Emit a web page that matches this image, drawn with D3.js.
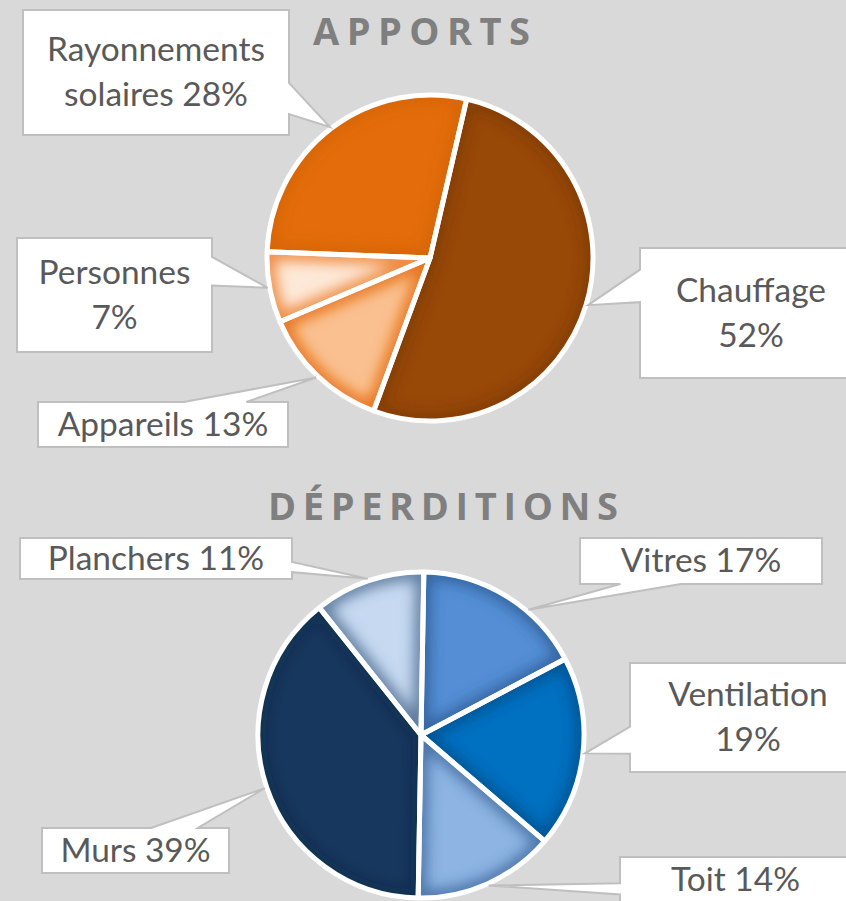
<!DOCTYPE html>
<html>
<head>
<meta charset="utf-8">
<script src="https://cdn.jsdelivr.net/npm/d3@7"></script>
<style>
  html, body { margin: 0; padding: 0; background: #d9d9d9; }
  svg { display: block; }
</style>
</head>
<body>
<div id="chart"></div>
<script>
'use strict';

// data
var apportsCats = ['Chauffage', 'Appareils', 'Personnes', 'Rayonnements solaires'];
var apportsVals = [52, 13, 7, 28];
var apportsColors = ['#984807', '#fac090', '#fde9d9', '#e46c0a'];
var apportsShade = ['#5a2a04', '#e46c0a', '#ec7a24', '#b45205'];
var apportsShadeOp = [0.35, 0.9, 0.85, 0.3];

var deperCats = ['Vitres', 'Ventilation', 'Toit', 'Murs', 'Planchers'];
var deperVals = [17, 19, 14, 39, 11];
var deperColors = ['#558ed5', '#0070c0', '#8db4e2', '#17375e', '#c6d9f1'];
var deperShade = ['#1f497d', '#003a66', '#2f5a90', '#0a1a30', '#46648a'];
var deperShadeOp = [0.6, 0.5, 0.7, 0.3, 0.8];

// callout boxes (layout only)
var apportsBoxes = [
  {x: 640, y: 248, w: 222, h: 130, first: 1},
  {x: 38,  y: 402, w: 250, h: 45,  first: 0},
  {x: 17,  y: 238, w: 195, h: 114, first: 1},
  {x: 23,  y: 10,  w: 266, h: 125, first: 1}
];
var deperBoxes = [
  {x: 580, y: 538, w: 242, h: 46,  first: 0, shift: 9},
  {x: 630, y: 663, w: 236, h: 109, first: 1},
  {x: 620, y: 857, w: 231, h: 45,  first: 0},
  {x: 42,  y: 828, w: 187, h: 45,  first: 0},
  {x: 20,  y: 538, w: 272, h: 41,  first: 0}
];

var W = 846, H = 901;
var svg = d3.select('#chart').append('svg')
    .attr('width', W)
    .attr('height', H);
svg.append('rect').attr('width', W).attr('height', H).attr('fill', '#d9d9d9');
var defs = svg.append('defs');

defs.append('filter').attr('id', 'soft')
    .attr('x', '-20%').attr('y', '-20%').attr('width', '140%').attr('height', '140%')
  .append('feGaussianBlur').attr('stdDeviation', 7);

var labelFont = 'Lato, "Open Sans", sans-serif';

// fit label font size to the reference width of "Rayonnements"
var probe = svg.append('text')
    .attr('font-family', labelFont)
    .attr('font-size', 30)
    .text('Rayonnements');
var labelSize = 30 * 218 / probe.node().getComputedTextLength();
probe.remove();

function calloutPath(b, tip) {
  var cx = b.x + b.w / 2, cy = b.y + b.h / 2;
  var dx = tip[0] - cx, dy = tip[1] - cy;
  var x0 = b.x, x1 = b.x + b.w, y0 = b.y, y1 = b.y + b.h;
  var p = d3.path();
  var vertical = Math.abs(dy) / b.h > Math.abs(dx) / b.w;
  var fa, fb;
  if (vertical) {
    fa = dx > 0 ? b.x + b.w * 7 / 12 : b.x + b.w * 2 / 12;
    fb = dx > 0 ? b.x + b.w * 10 / 12 : b.x + b.w * 5 / 12;
  } else {
    fa = dy > 0 ? b.y + b.h * 7 / 12 : b.y + b.h * 2 / 12;
    fb = dy > 0 ? b.y + b.h * 10 / 12 : b.y + b.h * 5 / 12;
  }
  p.moveTo(x0, y0);
  if (vertical && dy < 0) { p.lineTo(fa, y0); p.lineTo(tip[0], tip[1]); p.lineTo(fb, y0); }
  p.lineTo(x1, y0);
  if (!vertical && dx > 0) { p.lineTo(x1, fa); p.lineTo(tip[0], tip[1]); p.lineTo(x1, fb); }
  p.lineTo(x1, y1);
  if (vertical && dy > 0) { p.lineTo(fb, y1); p.lineTo(tip[0], tip[1]); p.lineTo(fa, y1); }
  p.lineTo(x0, y1);
  if (!vertical && dx < 0) { p.lineTo(x0, fb); p.lineTo(tip[0], tip[1]); p.lineTo(x0, fa); }
  p.closePath();
  return p.toString();
}

function drawPie(cfg) {
  var data = cfg.cats.map(function(c, i) { return {name: c, value: cfg.vals[i]}; });
  var start = cfg.start * Math.PI / 180;
  var pie = d3.pie().sort(null).value(function(d) { return d.value; })
      .startAngle(start).endAngle(start + 2 * Math.PI);
  var arcs = pie(data);
  var arc = d3.arc().innerRadius(0).outerRadius(cfg.r);

  var g = svg.append('g').attr('transform', 'translate(' + cfg.cx + ',' + cfg.cy + ')');

  arcs.forEach(function(a) {
    var cid = cfg.id + 'clip' + a.index;
    defs.append('clipPath').attr('id', cid).append('path').attr('d', arc(a));
    var s = g.append('g').attr('clip-path', 'url(#' + cid + ')');
    s.append('path')
        .attr('d', arc(a))
        .attr('fill', cfg.colors[a.index]);
    // soft inner shading along the slice edges
    s.append('path')
        .attr('d', arc(a))
        .attr('fill', 'none')
        .attr('stroke', cfg.shade[a.index])
        .attr('stroke-opacity', cfg.shadeOp[a.index])
        .attr('stroke-width', 16)
        .attr('filter', 'url(#soft)');
  });

  g.selectAll('path.edge').data(arcs).enter().append('path')
      .attr('class', 'edge')
      .attr('d', arc)
      .attr('fill', 'none')
      .attr('stroke', '#fff')
      .attr('stroke-width', 5)
      .attr('stroke-linejoin', 'round');

  // callouts
  arcs.forEach(function(a) {
    var b = cfg.boxes[a.index];
    var mid = (a.startAngle + a.endAngle) / 2 + (b.shift || 0) * Math.PI / 180;
    var tr = cfg.r + 2;
    var tip = [cfg.cx + tr * Math.sin(mid), cfg.cy - tr * Math.cos(mid)];

    svg.append('path')
        .attr('d', calloutPath(b, tip))
        .attr('fill', '#fff')
        .attr('stroke', '#bfbfbf')
        .attr('stroke-width', 2)
        .attr('stroke-linejoin', 'miter');

    var words = a.data.name.split(' ');
    var pct = a.data.value + '%';
    var lines;
    if (b.first === 0) lines = [a.data.name + ' ' + pct];
    else {
      var rest = words.slice(b.first);
      lines = [words.slice(0, b.first).join(' '), rest.concat([pct]).join(' ')];
    }
    var lh = 45;
    var top = b.y + b.h / 2 - lines.length * lh / 2;
    lines.forEach(function(l, k) {
      svg.append('text')
          .attr('x', b.x + b.w / 2)
          .attr('y', top + lh * k + lh / 2 + 11)
          .attr('text-anchor', 'middle')
          .attr('font-family', labelFont)
          .attr('font-size', labelSize)
          .attr('fill', '#595959')
          .text(l);
    });
  });
}

function drawTitle(txt, x, y, width) {
  var t = svg.append('text')
      .attr('x', x)
      .attr('y', y)
      .attr('font-family', '"Open Sans", sans-serif')
      .attr('font-weight', 700)
      .attr('font-size', 38)
      .attr('fill', '#7f7f7f')
      .text(txt);
  var w0 = t.node().getComputedTextLength();
  var n = txt.length;
  t.attr('letter-spacing', (width - w0) / (n - 1));
}

drawTitle('APPORTS', 313, 45, 217);
drawTitle('DÉPERDITIONS', 268, 520, 350);

drawPie({
  id: 'ap', cats: apportsCats, vals: apportsVals, colors: apportsColors,
  shade: apportsShade, shadeOp: apportsShadeOp, boxes: apportsBoxes,
  cx: 430, cy: 258, r: 163, start: 13
});

drawPie({
  id: 'dp', cats: deperCats, vals: deperVals, colors: deperColors,
  shade: deperShade, shadeOp: deperShadeOp, boxes: deperBoxes,
  cx: 421, cy: 735, r: 163, start: 1
});
</script>
</body>
</html>
